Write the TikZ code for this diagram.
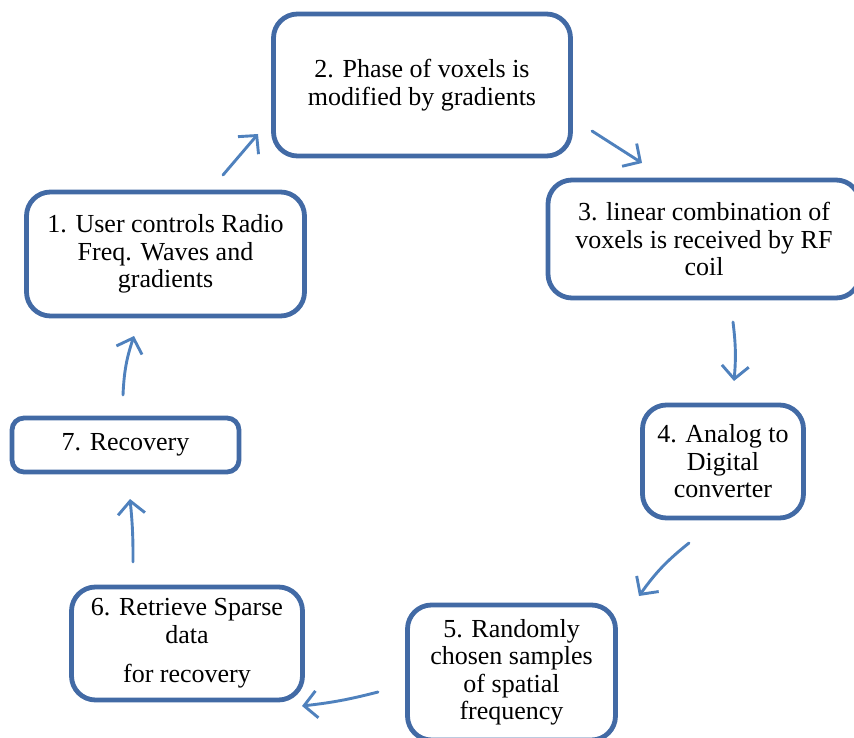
\documentclass[tikz,border=0pt]{standalone}
\usepackage{fontspec}
\setmainfont{Liberation Serif}
\usetikzlibrary{arrows.meta}
\definecolor{boxblue}{RGB}{66,106,165}
\definecolor{arrblue}{RGB}{79,129,189}
\begin{document}
\begin{tikzpicture}[x=1pt,y=-1pt,
  box/.style={draw=boxblue,line width=4.8pt,rounded corners=24pt,fill=white,
    align=center,font=\fontsize{26}{27.5}\selectfont,inner sep=0pt},
  flow/.style={draw=arrblue,line width=2.9pt,line cap=round,
    -{Straight Barb[length=13pt,width=27pt,line width=2.9pt]}}]
\useasboundingbox (0,0) rectangle (854,738);
\node[box,minimum width=278pt,minimum height=124pt] (b1) at (165.5,254) {1. User controls Radio\\Freq. Waves and\\gradients};
\node[box,minimum width=297pt,minimum height=142pt] (b2) at (422,85) {2. Phase of voxels is\\modified by gradients};
\node[box,minimum width=312pt,minimum height=118pt] (b3) at (704,239) {3. linear combination of\\voxels is received by RF\\coil};
\node[box,minimum width=161pt,minimum height=113pt] (b4) at (723,461.5) {4. Analog to\\Digital\\converter};
\node[box,minimum width=208pt,minimum height=135pt] (b5) at (511.5,672.5) {5. Randomly\\chosen samples\\of spatial\\frequency};
\node[box,minimum width=231pt,minimum height=113pt] (b6) at (187,643.5) {6. Retrieve Sparse\\data\\[12pt]for recovery};
\node[box,rounded corners=12pt,minimum width=227pt,minimum height=54pt] (b7) at (125.5,445) {7. Recovery};
\coordinate (a1s) at (223,175); \coordinate (a1e) at (258,134);
\coordinate (a2s) at (592,131); \coordinate (a2e) at (642,163);
\coordinate (a3s) at (733,322); \coordinate (a3e) at (734,381);
\coordinate (a4s) at (689,543); \coordinate (a4e) at (639,596);
\coordinate (a5s) at (378,692); \coordinate (a5e) at (302,706);
\coordinate (a6s) at (133,562); \coordinate (a6e) at (130,499);
\coordinate (a7s) at (123,395); \coordinate (a7e) at (134,336);
\draw[flow] (a1s) -- (a1e);
\draw[flow] (a2s) -- (a2e);
\draw[flow] (a3s) to[bend left=6] (a3e);
\draw[flow] (a4s) to[bend right=8] (a4e);
\draw[flow] (a5s) to[bend left=4] (a5e);
\draw[flow] (a6s) to[bend right=3] (a6e);
\draw[flow] (a7s) to[bend left=8] (a7e);
\end{tikzpicture}
\end{document}
